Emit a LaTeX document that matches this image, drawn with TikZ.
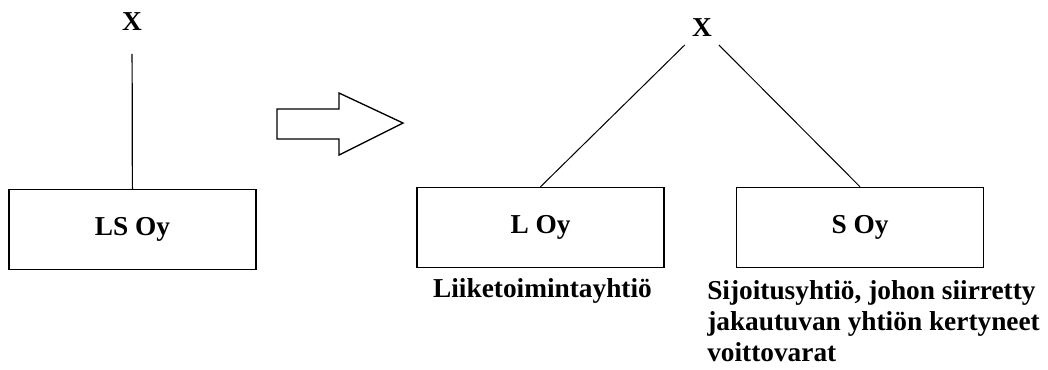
\documentclass[tikz,border=0pt]{standalone}
\usepackage{fontspec}
\setmainfont{Liberation Serif}
\usetikzlibrary{positioning}
\tikzset{
  company/.style={draw,line width=1.1pt,minimum width=185pt,minimum height=60pt,inner sep=0pt},
  owner/.style={inner sep=3pt},
  note/.style={align=left,inner sep=0pt}
}

\begin{document}
\begin{tikzpicture}[x=0.75pt,y=-0.75pt,font=\fontsize{20.5}{23.5}\selectfont\bfseries]
  \useasboundingbox (0,0) rectangle (1048,369);
  % before
  \node[owner] (xleft) at (132,22) {X};
  \node[company] (ls) at (132.5,229.5) {LS Oy};
  \draw[line width=0.9pt,shorten <=14pt] (xleft) -- (ls);
  % block arrow
  \draw[line width=1pt] (277,109) -- (339,109) -- (339,93) -- (403,123)
    -- (339,155) -- (339,139) -- (277,139) -- cycle;
  % after
  \node[owner] (xright) at (702,28) {X};
  \node[company] (lo) at (540.5,227.5) {L Oy};
  \node[company] (so) at (860,227.5) {S Oy};
  \draw[line width=0.75pt,shorten <=4pt] (xright) -- (lo.north);
  \draw[line width=0.75pt,shorten <=4pt] (xright) -- (so.north);
  \node[note,anchor=base] (lonote) at (542.5,297) {Liiketoimintayhtiö};
  \node[note,anchor=north west] (sonote) at (707,280)
    {Sijoitusyhtiö, johon siirretty\\jakautuvan yhtiön kertyneet\\voittovarat};
\end{tikzpicture}
\end{document}
